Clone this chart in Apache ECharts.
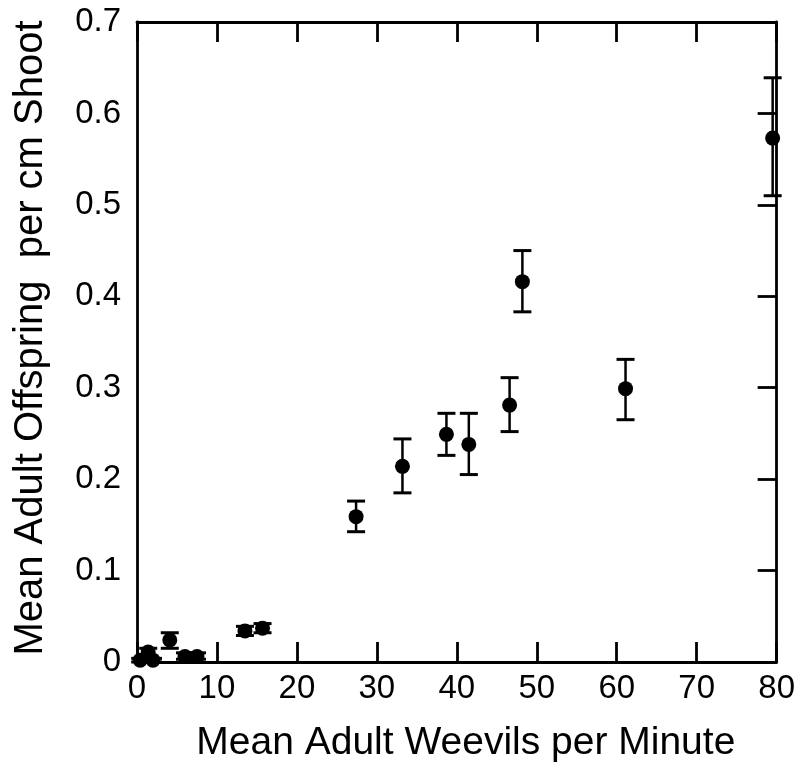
<!DOCTYPE html>
<html>
<head>
<meta charset="utf-8">
<script src="https://cdn.jsdelivr.net/npm/echarts@6/dist/echarts.min.js"></script>
<style>html,body{margin:0;padding:0;background:#fff;}#c{width:798px;height:771px;}</style>
</head>
<body>
<div id="c"></div>
<script>
// Data
const weevilsPerMinute = [0.4, 1.4, 2.0, 4.1, 6.0, 7.5, 13.5, 15.7, 27.4, 33.2, 38.7, 41.5, 46.6, 48.2, 61.1, 79.5];
const offspringMean   = [0.002, 0.011, 0.002, 0.024, 0.006, 0.006, 0.034, 0.037, 0.159, 0.214, 0.249, 0.238, 0.281, 0.416, 0.299, 0.573];
const offspringLow    = [0.000, 0.007, 0.000, 0.015, 0.003, 0.003, 0.029, 0.032, 0.1425, 0.185, 0.226, 0.205, 0.252, 0.383, 0.265, 0.510];
const offspringHigh   = [0.004, 0.015, 0.004, 0.032, 0.010, 0.010, 0.039, 0.042, 0.176, 0.244, 0.272, 0.272, 0.311, 0.450, 0.331, 0.639];
const xTickLabels = ['0', '10', '20', '30', '40', '50', '60', '70', '80'];
const yTickLabels = ['0', '0.1', '0.2', '0.3', '0.4', '0.5', '0.6', '0.7'];
const xTitle = 'Mean Adult Weevils per Minute';
const yTitle = 'Mean Adult Offspring  per cm Shoot';

const FONT = 'Liberation Sans, Arial, sans-serif';
const points = weevilsPerMinute.map((x, i) => [x, offspringMean[i]]);
const bars = weevilsPerMinute.map((x, i) => [x, offspringLow[i], offspringHigh[i]]);

const chart = echarts.init(document.getElementById('c'), null, {renderer: 'canvas'});
const lineStyle = {color: '#000', width: 2.8};
chart.setOption({
  animation: false,
  backgroundColor: '#fff',
  grid: {left: 137, right: 21, top: 22, bottom: 109, containLabel: false},
  xAxis: [{
    type: 'value', min: 0, max: 80, interval: 10, position: 'bottom',
    axisLine: {show: true, onZero: false, lineStyle: lineStyle},
    axisTick: {show: true, inside: true, length: 20, lineStyle: lineStyle},
    axisLabel: {show: true, margin: 10, color: '#000', fontSize: 33, fontFamily: FONT,
      showMinLabel: true, showMaxLabel: true,
      formatter: (v) => xTickLabels[Math.round(v / 10)]},
    splitLine: {show: false},
    name: xTitle, nameLocation: 'middle', nameGap: 62,
    nameTextStyle: {color: '#000', fontSize: 39, fontFamily: FONT, padding: [0, 0, 0, 18]}
  }, {
    type: 'value', min: 0, max: 80, interval: 10, position: 'top',
    axisLine: {show: true, onZero: false, lineStyle: lineStyle},
    axisTick: {show: true, inside: true, length: 20, lineStyle: lineStyle},
    axisLabel: {show: false}, splitLine: {show: false}
  }],
  yAxis: [{
    type: 'value', min: 0, max: 0.7, interval: 0.1, position: 'left',
    axisLine: {show: true, onZero: false, lineStyle: lineStyle},
    axisTick: {show: false},
    axisLabel: {show: true, margin: 16, color: '#000', fontSize: 33, fontFamily: FONT,
      showMinLabel: true, showMaxLabel: true,
      formatter: (v) => yTickLabels[Math.round(v * 10)]},
    splitLine: {show: false},
    name: yTitle, nameLocation: 'middle', nameGap: 86, nameRotate: 90,
    nameTextStyle: {color: '#000', fontSize: 40, fontFamily: FONT, padding: [0, 0, 0, 8]}
  }, {
    type: 'value', min: 0, max: 0.7, interval: 0.1, position: 'right',
    axisLine: {show: true, onZero: false, lineStyle: lineStyle},
    axisTick: {show: true, inside: true, length: 19, lineStyle: lineStyle},
    axisLabel: {show: false}, splitLine: {show: false}
  }],
  series: [{
    type: 'custom',
    xAxisIndex: 0, yAxisIndex: 0,
    data: bars,
    z: 2,
    renderItem: function (params, api) {
      const x = api.value(0);
      const lo = api.coord([x, api.value(1)]);
      const hi = api.coord([x, api.value(2)]);
      const hw = 9;
      const style = {stroke: '#000', lineWidth: 2.5};
      return {
        type: 'group',
        children: [
          {type: 'line', shape: {x1: lo[0], y1: lo[1], x2: hi[0], y2: hi[1]}, style: style},
          {type: 'line', shape: {x1: lo[0] - hw, y1: lo[1], x2: lo[0] + hw, y2: lo[1]}, style: {stroke: '#000', lineWidth: 3}},
          {type: 'line', shape: {x1: hi[0] - hw, y1: hi[1], x2: hi[0] + hw, y2: hi[1]}, style: {stroke: '#000', lineWidth: 3}}
        ]
      };
    }
  }, {
    type: 'scatter',
    xAxisIndex: 0, yAxisIndex: 0,
    data: points,
    symbol: 'circle', symbolSize: 15,
    itemStyle: {color: '#000', opacity: 1},
    clip: false,
    z: 3
  }]
});
</script>
</body>
</html>
